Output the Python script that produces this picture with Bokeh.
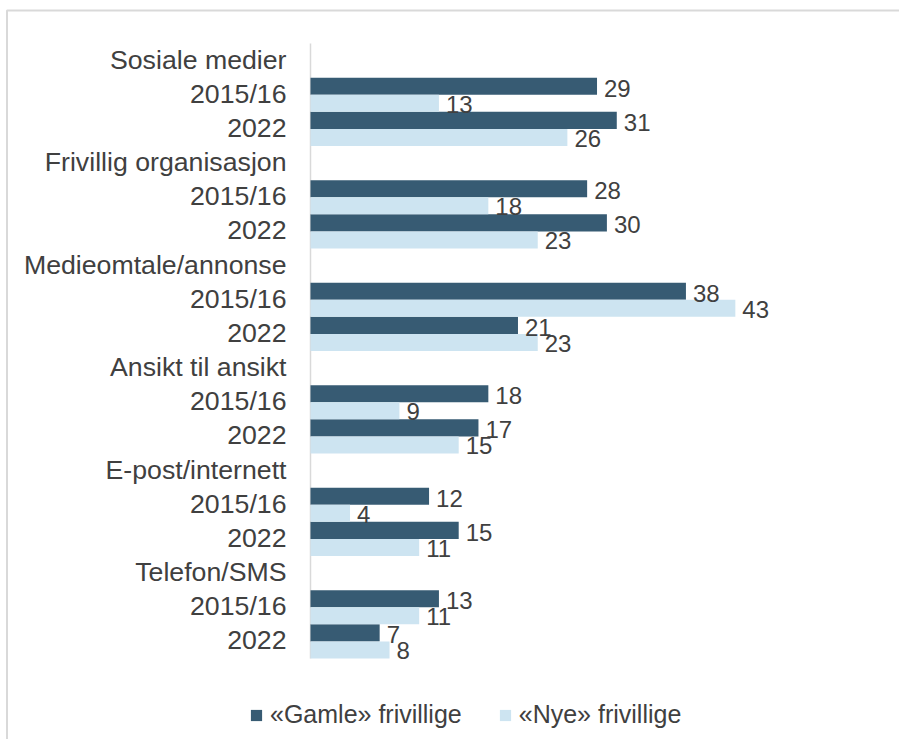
from bokeh.plotting import figure
from bokeh.models import Range1d, Legend, LegendItem
from bokeh.embed import file_html
from bokeh.resources import INLINE
from bokeh.core.properties import value

# ---- data ----
groups = ["Sosiale medier", "Frivillig organisasjon", "Medieomtale/annonse",
          "Ansikt til ansikt", "E-post/internett", "Telefon/SMS"]
years = ["2015/16", "2022"]
gamle = [29, 31, 28, 30, 38, 21, 18, 17, 12, 15, 13, 7]
nye = [13, 26, 18, 23, 43, 23, 9, 15, 4, 11, 11, 8]
series_names = ["«Gamle» frivillige", "«Nye» frivillige"]

DARK = "#375B73"
LIGHT = "#CDE4F1"
TXT = "#404040"
GRID = "#d9d9d9"
FONT = "Liberation Sans"

# ---- layout constants (pixels) ----
W, H = 899, 739
X0 = 310.0          # pixel of value 0
PX_PER_UNIT = 9.88  # pixels per percent
TOP = 43.0          # pixel of top of first row
PITCH = 34.1667     # pixels per row

# ---- rows: group header followed by its years ----
row_pos, row_lab = [], []
bar_rows = []
r = 0
for g in groups:
    row_pos.append(r)
    row_lab.append(g)
    r += 1
    for yr in years:
        row_pos.append(r)
        row_lab.append(yr)
        bar_rows.append(r)
        r += 1
n_rows = r

y_dark = [row - 0.25 for row in bar_rows]
y_light = [row + 0.25 for row in bar_rows]

x_start = -X0 / PX_PER_UNIT
x_end = (W - X0) / PX_PER_UNIT
y_top = -TOP / PITCH - 0.5
y_bottom = (H - TOP) / PITCH - 0.5

p = figure(width=W, height=H, output_backend="svg", toolbar_location=None,
           x_range=Range1d(x_start, x_end), y_range=Range1d(y_bottom, y_top),
           min_border=0)
p.outline_line_color = None
p.xgrid.visible = False
p.ygrid.visible = False
p.xaxis.visible = False
p.yaxis.visible = False

# outer chart-area border (left and top visible in the crop)
bx = (6.5 - X0) / PX_PER_UNIT
by = (10.0 - TOP) / PITCH - 0.5
p.line(x=[bx, bx, x_end + 1], y=[y_bottom + 1, by, by], line_color=GRID, line_width=2)

# category axis line
p.segment(x0=[0], y0=[-0.5], x1=[0], y1=[n_rows - 0.5], line_color=GRID, line_width=1.5)

# category labels
p.text(x=[0] * len(row_pos), y=row_pos, text=row_lab, x_offset=-24, y_offset=-1,
       text_align="right", text_baseline="middle", text_font=value(FONT),
       text_font_size="26.7px", text_color=TXT)

rd = p.hbar(y=y_dark, right=gamle, left=0, height=0.5, fill_color=DARK, line_color=None)
rl = p.hbar(y=y_light, right=nye, left=0, height=0.5, fill_color=LIGHT, line_color=None)

p.text(x=gamle, y=y_dark, text=[str(v) for v in gamle], x_offset=7, y_offset=2,
       text_align="left", text_baseline="middle", text_font=value(FONT),
       text_font_size="24px", text_color=TXT)
p.text(x=nye, y=y_light, text=[str(v) for v in nye], x_offset=7, y_offset=1,
       text_align="left", text_baseline="middle", text_font=value(FONT),
       text_font_size="24px", text_color=TXT)

legend = Legend(items=[LegendItem(label=series_names[0], renderers=[rd]),
                       LegendItem(label=series_names[1], renderers=[rl])],
                orientation="horizontal", location=(249, 10),
                glyph_width=14, glyph_height=14, label_standoff=7, spacing=36,
                padding=0, margin=0, border_line_color=None,
                background_fill_alpha=0, label_text_font=FONT,
                label_text_font_size="25px", label_text_color=TXT)
p.add_layout(legend)

open("out.html", "w").write(file_html(p, INLINE))
